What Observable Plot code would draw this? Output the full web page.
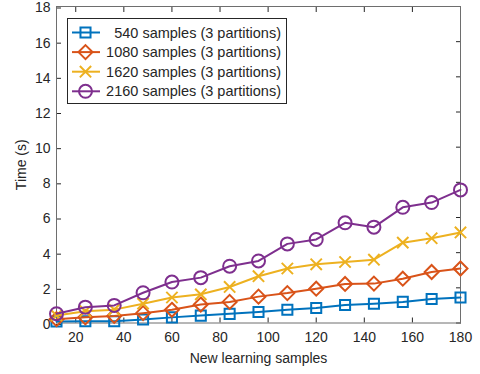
<!DOCTYPE html>
<html><head><meta charset="utf-8">
<script src="https://cdn.jsdelivr.net/npm/d3@7"></script>
<script src="https://cdn.jsdelivr.net/npm/@observablehq/plot@0.6"></script>
<style>
body{margin:0;background:#fff}
#wrap{position:relative;width:480px;height:374px;font-family:"Liberation Sans",Arial,sans-serif}
#wrap svg{overflow:visible}
#legend{position:absolute;left:0;top:0}
</style>
</head><body><div id="wrap"></div>
<script>
const newSamples = [12,24,36,48,60,72,84,96,108,120,132,144,156,168,180];
const seriesNames = ["540 samples (3 partitions)","1080 samples (3 partitions)","1620 samples (3 partitions)","2160 samples (3 partitions)"];
const t540  = [0.08,0.1,0.1,0.2,0.32,0.42,0.52,0.62,0.75,0.85,1.02,1.1,1.2,1.36,1.45];
const t1080 = [0.22,0.32,0.4,0.56,0.75,1.05,1.2,1.5,1.7,1.95,2.22,2.24,2.52,2.9,3.1];
const t1620 = [0.43,0.67,0.76,1.1,1.45,1.63,2.05,2.66,3.1,3.34,3.47,3.6,4.57,4.82,5.15];
const t2160 = [0.53,0.9,1.0,1.72,2.33,2.58,3.23,3.53,4.5,4.75,5.7,5.45,6.58,6.85,7.57];
const xTicks = [20,40,60,80,100,120,140,160,180];
const yTicks = [0,2,4,6,8,10,12,14,16,18];

const colors = ["#0072BD","#D95319","#EDB120","#7E2F8E"];
const symbols = ["square2","diamond2","times","circle"];
const radii = [6.4,6.3,5.2,6.5];
const allSeries = [t540,t1080,t1620,t2160];

const marks = [];
allSeries.forEach((vals, i) => {
  const rows = newSamples.map((x, j) => ({x, t: vals[j]}));
  marks.push(Plot.line(rows, {x: "x", y: "t", stroke: colors[i], strokeWidth: 2}));
  marks.push(Plot.dot(rows, {x: "x", y: "t", stroke: colors[i], symbol: symbols[i], r: radii[i], strokeWidth: 2, fill: "none"}));
});

const chart = Plot.plot({
  width: 480, height: 374,
  marginLeft: 56, marginRight: 20, marginTop: 6, marginBottom: 51.5,
  style: {fontFamily: '"Liberation Sans", Arial, sans-serif', fontSize: "14px", color: "#262626", background: "#fff"},
  x: {domain: [12, 180]},
  y: {domain: [0, 18]},
  marks: [
    Plot.axisX({ticks: xTicks, anchor: "bottom", tickSize: -5, tickPadding: 14, label: "New learning samples", labelAnchor: "center", labelArrow: "none", labelOffset: 40, fontSize: 14}),
    Plot.axisX({ticks: xTicks, anchor: "top", tickSize: -5, tickFormat: () => "", label: null}),
    Plot.axisY({ticks: yTicks, anchor: "left", tickSize: -5, tickPadding: 11, dy: 1.5, label: "Time (s)", labelAnchor: "center", labelArrow: "none", labelOffset: 40, fontSize: 14}),
    Plot.axisY({ticks: yTicks, anchor: "right", tickSize: -5, tickFormat: () => "", label: null}),
    Plot.frame({stroke: "#6e6e6e", strokeWidth: 1}),
    ...marks
  ]
});
const wrap = document.getElementById("wrap");
wrap.appendChild(chart);

// Legend overlay
const lg = d3.select(wrap).append("svg").attr("id","legend").attr("width",480).attr("height",374);
lg.append("rect").attr("x",67.5).attr("y",18.5).attr("width",219).attr("height",85)
  .attr("fill","#fff").attr("stroke","#262626").attr("stroke-width",1);
const symMap = {square2: d3.symbolSquare2, diamond2: d3.symbolDiamond2, times: d3.symbolTimes, circle: d3.symbolCircle};
seriesNames.forEach((name, i) => {
  const y = 32.5 + i * 19.6;
  const g = lg.append("g");
  g.append("line").attr("x1",72).attr("x2",100).attr("y1",y).attr("y2",y).attr("stroke",colors[i]).attr("stroke-width",2);
  g.append("path").attr("transform",`translate(85.5,${y})`)
    .attr("d", d3.symbol(symMap[symbols[i]], radii[i]*radii[i]*Math.PI)())
    .attr("fill","none").attr("stroke",colors[i]).attr("stroke-width",2);
  g.append("text").attr("x",281).attr("y",y).attr("dy","0.35em").attr("text-anchor","end")
    .attr("font-size","14.5px").attr("fill","#262626").attr("font-family",'"Liberation Sans", Arial, sans-serif')
    .text(name);
});
</script></body></html>
